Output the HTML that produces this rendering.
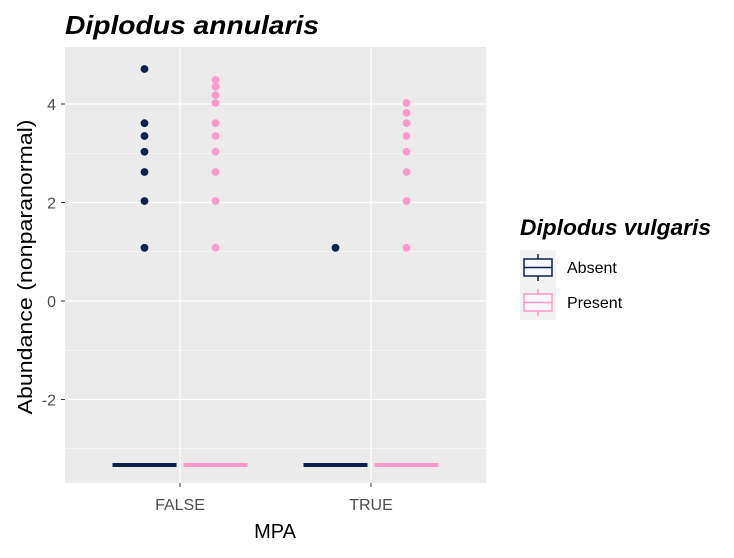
<!DOCTYPE html>
<html><head><meta charset="utf-8"><style>
body{margin:0;background:#fff;}
svg text{font-family:"Liberation Sans",sans-serif;}
</style></head><body>
<svg id="chart" width="734" height="553" xmlns="http://www.w3.org/2000/svg"></svg>
<script>
const categories = ["FALSE","TRUE"];
const groups = ["Absent","Present"];
const boxValues = [[-3.33,-3.33],[-3.33,-3.33]];
const pointsFalseAbsent = [4.71,3.61,3.35,3.03,2.62,2.03,1.08];
const pointsFalsePresent = [4.49,4.35,4.18,4.02,3.61,3.35,3.03,2.62,2.03,1.08];
const pointsTrueAbsent = [1.08];
const pointsTruePresent = [4.02,3.82,3.61,3.35,3.03,2.62,2.03,1.08];
const yTicks = [-2,0,2,4];
const yMinor = [-3,-1,1,3];
const colors = ["#0d2149","#ff99cc"];

const svg = document.getElementById('chart');
const NS = "http://www.w3.org/2000/svg";
function mk(tag, attrs, parent){const e=document.createElementNS(NS,tag);for(const k in attrs)e.setAttribute(k,attrs[k]);(parent||svg).appendChild(e);return e;}
const L=65,R=486,T=47,B=483;
const y = v => 301 - 49.25*v;
const xc = i => 180 + i*191;
const dodge = 35.5;

const panel = mk('rect',{x:L,y:T,width:R-L,height:B-T,fill:'#ebebeb'});


yMinor.forEach(v=>{const l=mk('line',{x1:L,x2:R,y1:y(v),y2:y(v),stroke:'#fff','stroke-width':0.6});

});
yTicks.forEach(v=>{const l=mk('line',{x1:L,x2:R,y1:y(v),y2:y(v),stroke:'#fff','stroke-width':1.2});


const t=mk('text',{x:56,y:y(v)+6,'text-anchor':'end','font-size':16,fill:'#4d4d4d'});t.textContent=v;


mk('line',{x1:61,x2:65,y1:y(v),y2:y(v),stroke:'#333','stroke-width':1});});
categories.forEach((c,i)=>{const l=mk('line',{x1:xc(i),x2:xc(i),y1:T,y2:B,stroke:'#fff','stroke-width':1.2});


mk('line',{x1:xc(i),x2:xc(i),y1:B,y2:B+4,stroke:'#333','stroke-width':1});
const t=mk('text',{x:xc(i),y:510,'text-anchor':'middle','font-size':16,fill:'#4d4d4d'});t.textContent=c;

});

categories.forEach((c,i)=>groups.forEach((g,j)=>{
  const cx=xc(i)+(j?dodge:-dodge);
  const r=mk('rect',{x:cx-32,y:y(boxValues[i][j])-2,width:64,height:4,fill:colors[j]});
  
  
}));
const pts=[[pointsFalseAbsent,pointsFalsePresent],[pointsTrueAbsent,pointsTruePresent]];
pts.forEach((pair,i)=>pair.forEach((arr,j)=>{
  const cx=xc(i)+(j?dodge:-dodge);
  arr.forEach(v=>{const p=mk('circle',{cx:cx,cy:y(v),r:3.9,fill:colors[j]});
  
  });
}));

function txt(s,a,name){const t=mk('text',a);t.textContent=s;return t;}
txt('Diplodus annularis',{x:65,y:34,'font-size':26,'font-weight':'bold','font-style':'italic',fill:'#000',textLength:254,lengthAdjust:'spacingAndGlyphs'},'chart-title');
txt('MPA',{x:275,y:538,'text-anchor':'middle','font-size':20,fill:'#000'},'x-axis-title');
txt('Abundance (nonparanormal)',{x:0,y:0,transform:'translate(32,267) rotate(-90)','text-anchor':'middle','font-size':20,fill:'#000',textLength:295,lengthAdjust:'spacingAndGlyphs'},'y-axis-title');
txt('Diplodus vulgaris',{x:520,y:235,'font-size':22,'font-weight':'bold','font-style':'italic',fill:'#000',textLength:191,lengthAdjust:'spacingAndGlyphs'},'legend-title');
groups.forEach((g,j)=>{
  const gy=250+j*35;
  const grp=mk('g',{});
  
  
  mk('rect',{x:520,y:gy,width:36,height:35,fill:'#f2f2f2'},grp);
  mk('line',{x1:538,x2:538,y1:gy+4,y2:gy+31,stroke:colors[j],'stroke-width':1.5},grp);
  mk('rect',{x:524,y:gy+9,width:28,height:17,fill:'#f8f8fc',stroke:colors[j],'stroke-width':1.5},grp);
  mk('line',{x1:524,x2:552,y1:gy+17.5,y2:gy+17.5,stroke:colors[j],'stroke-width':1.5},grp);
  const t=mk('text',{x:567,y:gy+23,'font-size':16,fill:'#000'},grp);t.textContent=g;
});
</script>
</body></html>
